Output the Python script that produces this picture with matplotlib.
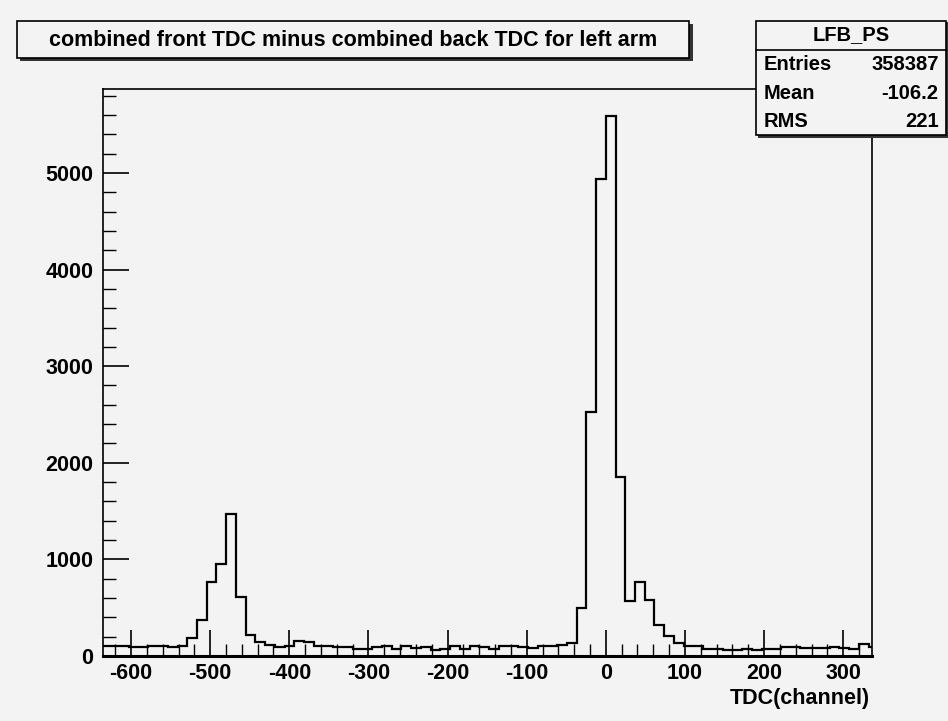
import matplotlib
matplotlib.use('Agg')
import numpy as np
import matplotlib.pyplot as plt
from matplotlib.ticker import MultipleLocator

plt.rcParams['font.family'] = ['Liberation Sans', 'DejaVu Sans']
plt.rcParams['axes.unicode_minus'] = False

# bin width and first bin index (bins aligned so that 0 is an edge)
bin_width = 12.3
first_bin = -52

# counts per bin
counts_left = [100, 105, 98, 96, 92, 104, 100, 94, 108]
counts_left_peak = [185, 370, 765, 955, 1470, 615, 215, 140]
counts_bump = [112, 96, 100, 150, 140, 108]
counts_middle = [100, 92, 96, 72, 70, 95, 107, 69, 105, 80, 96, 62, 72,
                 103, 72, 107, 96, 72, 107, 100, 90, 85, 98, 104, 110, 138]
counts_main_peak = [493, 2525, 4940, 5590, 1855, 569, 765, 578, 318, 205, 135, 105]
counts_right = [100, 72, 70, 65, 62, 68, 66, 70, 75, 90, 90, 85, 78, 80, 88, 80, 72, 122, 88]

counts = counts_left + counts_left_peak + counts_bump + counts_middle + counts_main_peak + counts_right
edges = bin_width * np.arange(first_bin, first_bin + len(counts) + 1)

title = 'combined front TDC minus combined back TDC for left arm'
hist_name = 'LFB_PS'
stats = [('Entries', '358387'), ('Mean', '-106.2'), ('RMS', '221')]
x_label = 'TDC(channel)'

bg = '#f3f3f3'
fig = plt.figure(figsize=(9.48, 7.21), dpi=100, facecolor=bg)
ax = fig.add_axes([0.1090, 0.0902, 0.8105, 0.7864], facecolor=bg)

ax.stairs(counts, edges, baseline=None, color='black', lw=1.6)

ax.set_xlim(-635, 336)
ax.set_ylim(0, 1.05 * max(counts))

ax.xaxis.set_major_locator(MultipleLocator(100))
ax.xaxis.set_minor_locator(MultipleLocator(20))
ax.yaxis.set_major_locator(MultipleLocator(1000))
ax.yaxis.set_minor_locator(MultipleLocator(200))
ax.tick_params(axis='both', which='major', direction='in', length=19, width=1.2,
               labelsize=15.5, top=False, right=False)
ax.tick_params(axis='x', which='major', pad=5)
ax.tick_params(axis='y', which='major', pad=7)
ax.tick_params(axis='both', which='minor', direction='in', length=9, width=1.0,
               top=False, right=False)
for lab in ax.get_xticklabels() + ax.get_yticklabels():
    lab.set_fontweight('bold')

for side in ['left', 'top', 'right']:
    ax.spines[side].set_linewidth(1.2)
ax.spines['bottom'].set_linewidth(2.2)

fig.text(0.918, 0.031, x_label, ha='right', va='center', fontsize=15.5, fontweight='bold')

# title box with shadow
fig.patches.append(plt.Rectangle((0.0215, 0.9155), 0.709, 0.0513, transform=fig.transFigure,
                                 facecolor='#333333', edgecolor='none', zorder=2))
fig.patches.append(plt.Rectangle((0.018, 0.9196), 0.709, 0.0513, transform=fig.transFigure,
                                 facecolor=bg, edgecolor='black', lw=1.2, zorder=3))
fig.text(0.3725, 0.9445, title, ha='center', va='center', fontsize=15.5, fontweight='bold', zorder=4)

# stats box with shadow
fig.patches.append(plt.Rectangle((0.800, 0.809), 0.200, 0.160, transform=fig.transFigure,
                                 facecolor='#333333', edgecolor='none', zorder=2))
fig.patches.append(plt.Rectangle((0.7975, 0.813), 0.200, 0.158, transform=fig.transFigure,
                                 facecolor=bg, edgecolor='black', lw=1.2, zorder=3))
fig.lines.append(plt.Line2D([0.7975, 0.9975], [0.931, 0.931], transform=fig.transFigure,
                            color='black', lw=1.2, zorder=4))
fig.text(0.8975, 0.952, hist_name, ha='center', va='center', fontsize=14.5, fontweight='bold', zorder=5)
for i, (name, val) in enumerate(stats):
    y = 0.910 - i * 0.039
    fig.text(0.806, y, name, ha='left', va='center', fontsize=14.5, fontweight='bold', zorder=5)
    fig.text(0.990, y, val, ha='right', va='center', fontsize=14.5, fontweight='bold', zorder=5)

fig.savefig('out.png', dpi=100, facecolor=bg)
